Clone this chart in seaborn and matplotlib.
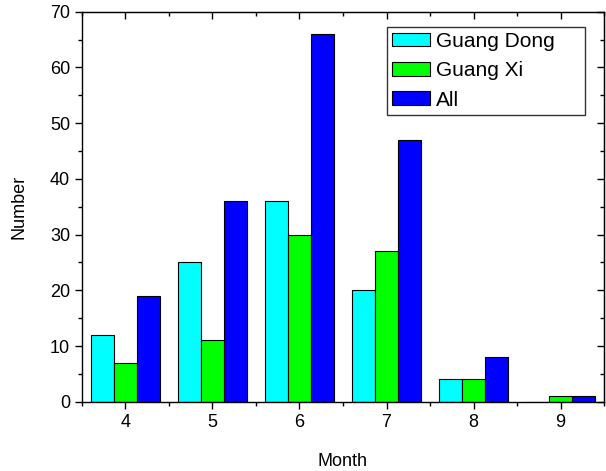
import pandas as pd
import matplotlib.pyplot as plt
import seaborn as sns
from matplotlib.ticker import MultipleLocator

months = [4, 5, 6, 7, 8, 9]
guang_dong = [12, 25, 36, 20, 4, 0]
guang_xi = [7, 11, 30, 27, 4, 1]
all_regions = [19, 36, 66, 47, 8, 1]

df = pd.DataFrame({
    'Month': months * 3,
    'Number': guang_dong + guang_xi + all_regions,
    'Region': ['Guang Dong'] * 6 + ['Guang Xi'] * 6 + ['All'] * 6,
})

sns.set_style('ticks')
plt.rcParams['font.family'] = ['Liberation Sans', 'DejaVu Sans']
plt.rcParams['text.color'] = 'black'
plt.rcParams['axes.labelcolor'] = 'black'
plt.rcParams['xtick.color'] = 'black'
plt.rcParams['ytick.color'] = 'black'

fig = plt.figure(figsize=(6.06, 4.71), dpi=100)
ax = fig.add_axes([0.135, 0.147, 0.862, 0.828])
sns.barplot(data=df, x='Month', y='Number', hue='Region', native_scale=True,
            palette=['#00ffff', '#00ff00', '#0000ff'], saturation=1,
            width=0.8, gap=0, edgecolor='black', linewidth=0.8, ax=ax)

ax.set_xlim(3.5, 9.5)
ax.set_ylim(0, 70)
ax.set_xticks(months)
ax.xaxis.set_minor_locator(MultipleLocator(0.5))
ax.yaxis.set_major_locator(MultipleLocator(10))
ax.yaxis.set_minor_locator(MultipleLocator(5))
ax.tick_params(which='both', direction='out', labelsize=13)
ax.tick_params(which='major', length=5, width=1)
ax.tick_params(which='minor', length=3, width=1)
# mirrored ticks on top and right point inward
sec_x = ax.secondary_xaxis('top')
sec_x.set_xticks(months)
sec_x.xaxis.set_minor_locator(MultipleLocator(0.5))
sec_x.tick_params(which='both', direction='in', labeltop=False)
sec_x.tick_params(which='major', length=5, width=1)
sec_x.tick_params(which='minor', length=3, width=1)
sec_y = ax.secondary_yaxis('right')
sec_y.yaxis.set_major_locator(MultipleLocator(10))
sec_y.yaxis.set_minor_locator(MultipleLocator(5))
sec_y.tick_params(which='both', direction='in', labelright=False)
sec_y.tick_params(which='major', length=5, width=1)
sec_y.tick_params(which='minor', length=3, width=1)
for spine in ax.spines.values():
    spine.set_visible(True)
    spine.set_color('black')
    spine.set_linewidth(1)
ax.set_xlabel('Month', fontsize=13, labelpad=16)
ax.set_ylabel('Number', fontsize=13, labelpad=16)

leg = ax.legend(loc='upper left', bbox_to_anchor=(0.584, 0.5, 0.380, 0.462),
                mode='expand', fontsize=15,
                frameon=True, fancybox=False, edgecolor='black',
                handlelength=1.83, handleheight=0.63, handletextpad=0.29,
                borderaxespad=0, borderpad=0.25, labelspacing=0.5)
leg.get_frame().set_linewidth(1)

fig.savefig('out.png', dpi=100)
